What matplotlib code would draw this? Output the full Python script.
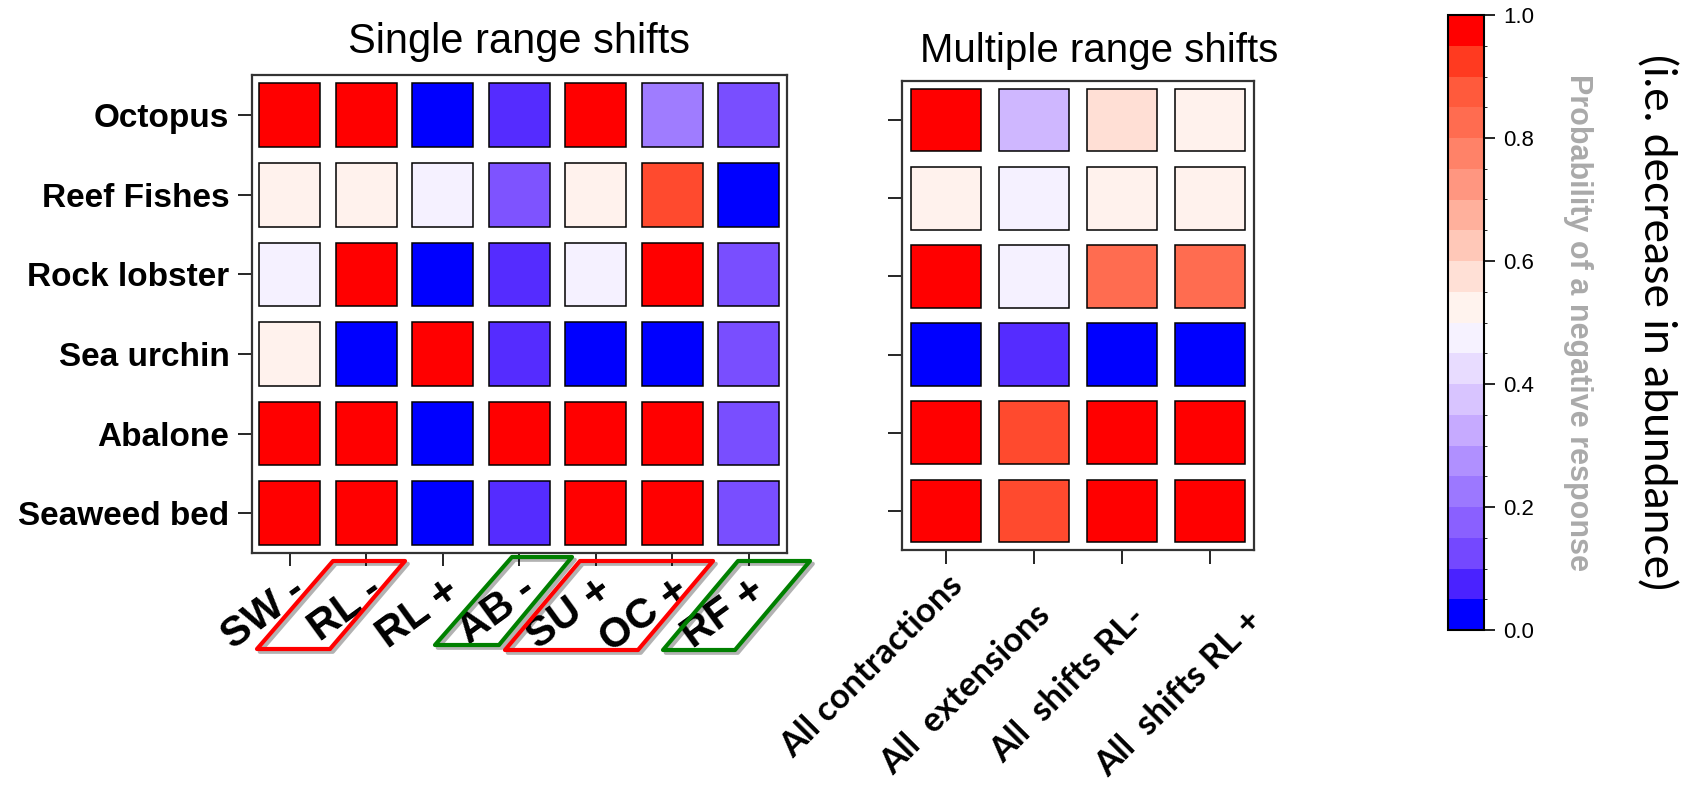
import matplotlib
matplotlib.use("Agg")
import matplotlib.pyplot as plt
import numpy as np
from matplotlib.colors import ListedColormap, LinearSegmentedColormap, BoundaryNorm
from matplotlib.cm import ScalarMappable
from matplotlib.patches import Polygon
from matplotlib.transforms import ScaledTranslation
import matplotlib.patheffects as pe

species = ["Octopus", "Reef Fishes", "Rock lobster", "Sea urchin", "Abalone", "Seaweed bed"]
single_labels = ["SW -", "RL -", "RL +", "AB -", "SU +", "OC +", "RF +"]
multi_labels = ["All contractions", "All  extensions", "All  shifts RL-", "All  shifts RL +"]

# probability of a negative response, one row per species
single_vals = [
    [1.00, 1.00, 0.00, 0.07, 1.00, 0.22, 0.12],
    [0.53, 0.53, 0.47, 0.13, 0.53, 0.92, 0.00],
    [0.47, 1.00, 0.00, 0.07, 0.47, 1.00, 0.12],
    [0.53, 0.00, 1.00, 0.07, 0.00, 0.00, 0.12],
    [1.00, 1.00, 0.00, 1.00, 1.00, 1.00, 0.12],
    [1.00, 1.00, 0.00, 0.07, 1.00, 1.00, 0.12],
]
multi_vals = [
    [1.00, 0.34, 0.58, 0.53],
    [0.53, 0.47, 0.53, 0.53],
    [1.00, 0.47, 0.84, 0.84],
    [0.00, 0.07, 0.00, 0.00],
    [1.00, 0.92, 1.00, 1.00],
    [1.00, 0.92, 1.00, 1.00],
]

band_colors = ["#0000ff", "#4a22ff", "#7448ff", "#8a60ff", "#9c78ff",
               "#b090ff", "#c6aaff", "#d8c4ff", "#e8dcff", "#f6f2ff",
               "#fff3ee", "#ffe0d6", "#ffc8b8", "#ffb09c", "#ff9680",
               "#ff8268", "#ff6c50", "#ff5a3c", "#ff3a20", "#ff0000"]
cell_cmap = LinearSegmentedColormap.from_list(
    "cells", list(zip(np.linspace(0, 1, len(band_colors)), band_colors)))

W, H = 1683, 790
fig = plt.figure(figsize=(W / 100, H / 100), dpi=100)


def px_axes(x0, y0, x1, y1):
    return fig.add_axes([x0 / W, 1 - y1 / H, (x1 - x0) / W, (y1 - y0) / H])


def shift(label, dx, dy):
    # nudge a text by pixels
    label.set_transform(label.get_transform() + ScaledTranslation(dx / 100, dy / 100, fig.dpi_scale_trans))


def draw_tiles(ax, values):
    for i, row in enumerate(values):
        ax.bar(np.arange(len(row)), 0.8, width=0.8, bottom=i - 0.4,
               color=cell_cmap(np.array(row)), edgecolor="black", linewidth=1.1)
    ax.set_xlim(-0.5, len(values[0]) - 0.5)
    ax.set_ylim(len(values) - 0.5, -0.5)
    for s in ax.spines.values():
        s.set_color("#333333")
        s.set_linewidth(1.6)


ax1 = px_axes(251.6, 75.4, 787, 553)
ax2 = px_axes(902, 81, 1254, 550)
cax = px_axes(1447.7, 15, 1484, 630)

draw_tiles(ax1, single_vals)
draw_tiles(ax2, multi_vals)

ax1.set_yticks(range(len(species)))
ax1.set_yticklabels(species, fontsize=24, fontweight="bold", family="Liberation Sans")
ax1.set_xticks(range(len(single_labels)))
ax1.set_xticklabels(single_labels, fontsize=30, fontweight="bold", family="Liberation Sans",
                    rotation=36, ha="right", va="center", rotation_mode="anchor")
ax1.tick_params(axis="y", length=10, width=1.2, pad=6)
ax1.tick_params(axis="x", length=9, width=1.2, pad=15)
for lab in ax1.get_xticklabels():
    shift(lab, 12, 0)
ax1.set_title("Single range shifts", fontsize=30, family="Liberation Sans", pad=16)

ax2.set_yticks(range(len(species)))
ax2.set_yticklabels([])
ax2.set_xticks(range(len(multi_labels)))
ax2.set_xticklabels(multi_labels, fontsize=25, fontweight="bold", family="Lato",
                    rotation=45, ha="right", va="top", rotation_mode="anchor")
ax2.tick_params(axis="y", length=10, width=1.2)
ax2.tick_params(axis="x", length=10, width=1.2, pad=16)
for lab, (dx, dy) in zip(ax2.get_xticklabels(), [(0, 17), (0, -12), (7, -15), (35, -18)]):
    shift(lab, dx, dy)
ax2.set_title("Multiple range shifts", fontsize=29, family="Liberation Sans", pad=14, x=0.56)

# colorbar
sm = ScalarMappable(norm=BoundaryNorm(np.linspace(0, 1, 21), 20),
                    cmap=ListedColormap(band_colors))
cb = fig.colorbar(sm, cax=cax, ticks=[0, 0.2, 0.4, 0.6, 0.8, 1.0], format="%.1f")
cb.outline.set_linewidth(1.5)
cb.ax.tick_params(labelsize=16, length=8, width=1.2, pad=6)
for t in cb.ax.get_yticklabels():
    t.set_family("Liberation Sans")
cax.text(3.6, 0.5, "Probability of a negative response", transform=cax.transAxes,
         rotation=270, ha="center", va="center", fontsize=22, fontweight="bold",
         color="#aaaaaa", family="Liberation Sans")
cax.text(5.75, 0.5, "(i.e. decrease in abundance)", transform=cax.transAxes,
         rotation=270, ha="center", va="center", fontsize=32, family="Lato")

# highlight boxes around some shift labels (pixel coords)
boxes = [
    ("#ff0000", [(333, 561), (405, 561), (330, 649), (257, 649)]),
    ("#008000", [(512, 557), (572, 557), (499, 645), (435, 645)]),
    ("#ff0000", [(580, 561), (713, 561), (638, 650), (505, 650)]),
    ("#008000", [(738, 561), (810, 561), (735, 650), (663, 650)]),
]
for col, pts in boxes:
    xy = [(x / W, 1 - y / H) for x, y in pts]
    poly = Polygon(xy, closed=True, fill=False, edgecolor=col, linewidth=3,
                   joinstyle="round", transform=fig.transFigure, clip_on=False,
                   path_effects=[pe.SimpleLineShadow(offset=(2, -2), alpha=0.3), pe.Normal()])
    fig.add_artist(poly)

fig.savefig("out.png", dpi=100)
